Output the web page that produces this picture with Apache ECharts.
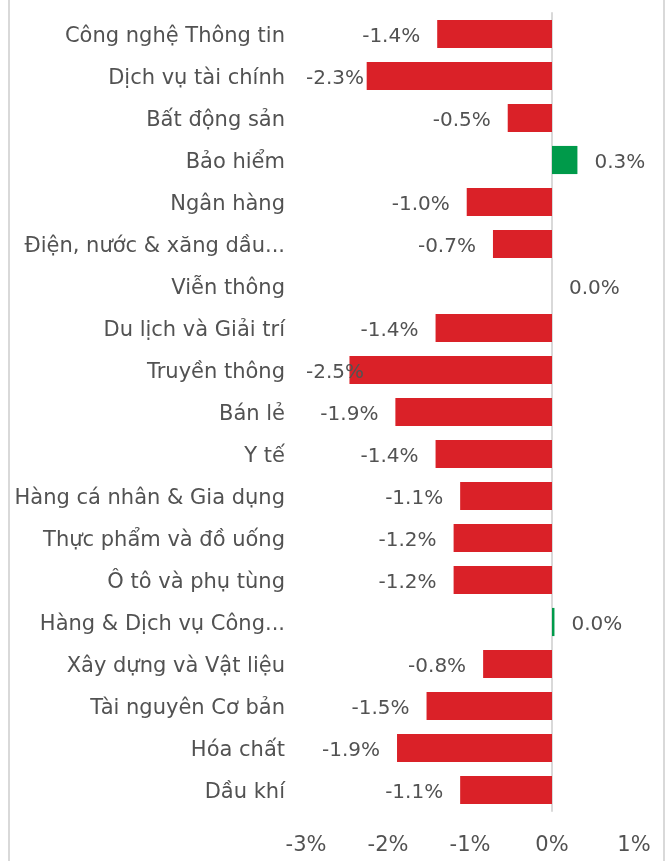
<!DOCTYPE html>
<html>
<head>
<meta charset="utf-8">
<script src="https://cdn.jsdelivr.net/npm/echarts@6/dist/echarts.min.js"></script>
<style>
  html, body { margin: 0; padding: 0; background: #fff; }
  #main { width: 666px; height: 861px; }
</style>
</head>
<body>
<div id="main"></div>
<script>
// danh mục ngành (từ trên xuống)
const categories = [
  'Công nghệ Thông tin', 'Dịch vụ tài chính', 'Bất động sản', 'Bảo hiểm',
  'Ngân hàng', 'Điện, nước & xăng dầu...', 'Viễn thông', 'Du lịch và Giải trí',
  'Truyền thông', 'Bán lẻ', 'Y tế', 'Hàng cá nhân & Gia dụng',
  'Thực phẩm và đồ uống', 'Ô tô và phụ tùng', 'Hàng & Dịch vụ Công...',
  'Xây dựng và Vật liệu', 'Tài nguyên Cơ bản', 'Hóa chất', 'Dầu khí'
];
// % thay đổi
const changes = [
  -1.40, -2.26, -0.54, 0.31,
  -1.04, -0.72, 0.0, -1.42,
  -2.47, -1.91, -1.42, -1.12,
  -1.20, -1.20, 0.03,
  -0.84, -1.53, -1.89, -1.12
];
const xTicks = [-3, -2, -1, 0, 1];

const RED = '#DA2128';
const GREEN = '#009A4A';
const TEXT = '#525252';
const FONT = 'DejaVu Sans';
const GRID_LEFT = 306;

let chart = echarts.init(document.getElementById('main'));

let option = {
  animation: false,
  textStyle: { fontFamily: FONT },
  grid: { left: GRID_LEFT, right: 32, top: 13, bottom: 50 },
  xAxis: {
    type: 'value',
    min: xTicks[0],
    max: xTicks[xTicks.length - 1],
    interval: 1,
    splitLine: { show: false },
    axisLine: { show: false },
    axisTick: { show: false },
    axisLabel: {
      color: TEXT,
      fontSize: 21,
      fontFamily: FONT,
      margin: 24,
      formatter: v => v + '%'
    }
  },
  yAxis: {
    type: 'category',
    inverse: true,
    data: categories,
    axisTick: { show: false },
    axisLine: { show: true, onZero: true, lineStyle: { color: '#d9d9d9', width: 2 } },
    axisLabel: {
      margin: 21,
      formatter: v => '{c|' + v + '}',
      rich: {
        // đẩy chữ xuống ~3px
        c: { color: TEXT, fontSize: 21, fontFamily: FONT, padding: [6, 0, 0, 0] }
      }
    }
  },
  series: [{
    type: 'bar',
    barCategoryGap: '33%',
    data: changes.map(v => ({
      value: v,
      itemStyle: { color: v < 0 ? RED : GREEN },
      label: { position: v < 0 ? 'left' : 'right' }
    })),
    label: {
      show: true,
      distance: 17,
      formatter: p => '{v|' + p.value.toFixed(1) + '%}',
      rich: {
        v: { color: TEXT, fontSize: 20, fontFamily: FONT, padding: [6, 0, 0, 0] }
      }
    },
    // giữ nhãn trong vùng vẽ
    labelLayout: function (params) {
      if (params.labelRect.x < GRID_LEFT) {
        return {
          x: GRID_LEFT,
          y: params.rect.y + params.rect.height / 2,
          align: 'left',
          verticalAlign: 'middle'
        };
      }
    }
  }],
  graphic: [
    { type: 'line', shape: { x1: 9, y1: 0, x2: 9, y2: 861 }, style: { stroke: '#d9d9d9', lineWidth: 2 } },
    { type: 'line', shape: { x1: 664, y1: 0, x2: 664, y2: 861 }, style: { stroke: '#d9d9d9', lineWidth: 2 } }
  ]
};

chart.setOption(option);
window.addEventListener('resize', () => chart.resize());
</script>
</body>
</html>
